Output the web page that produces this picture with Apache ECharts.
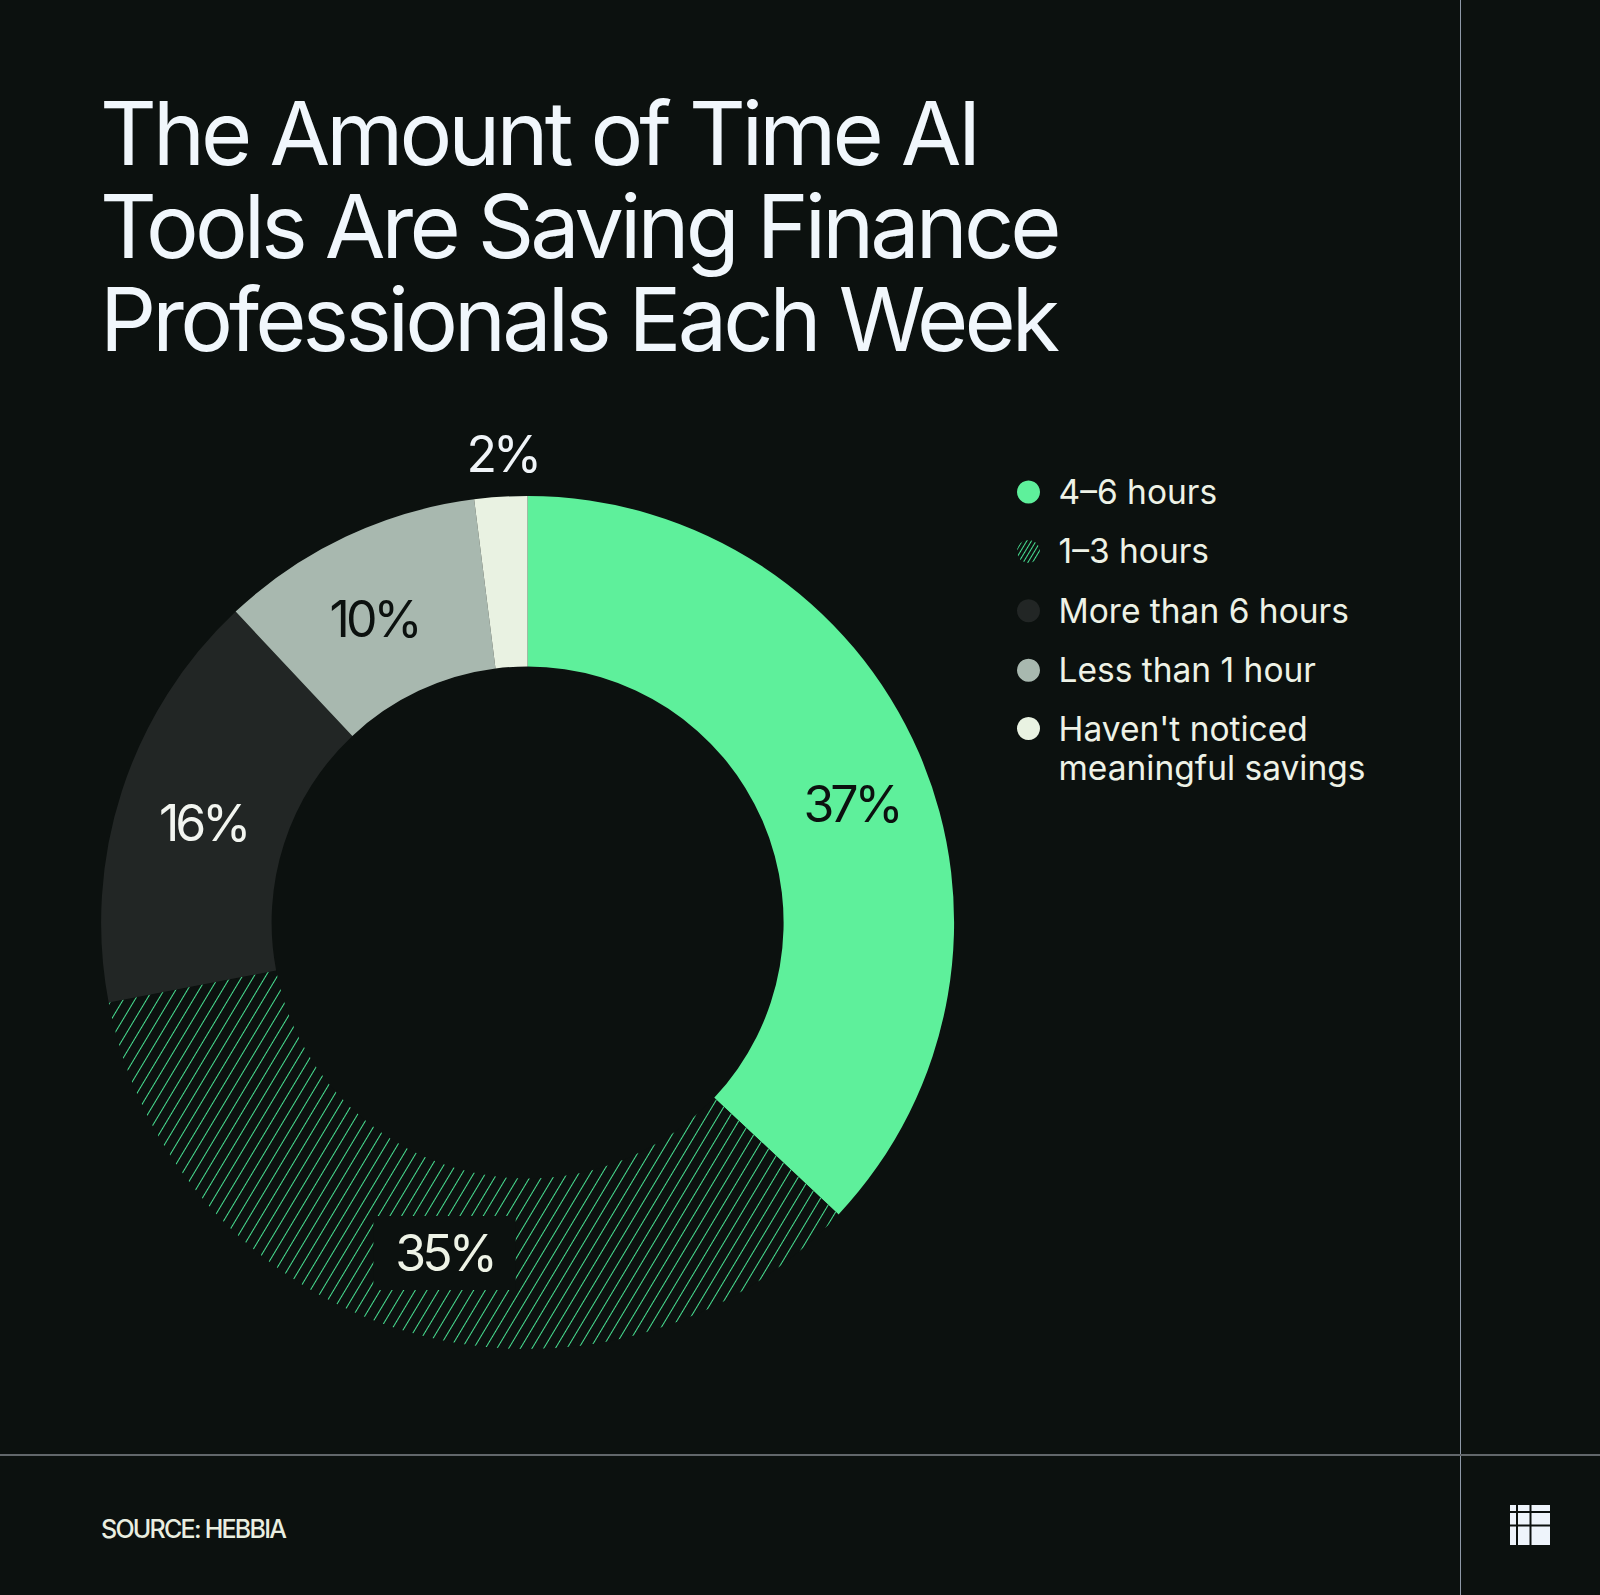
<!DOCTYPE html>
<html>
<head>
<meta charset="utf-8">
<script src="https://cdn.jsdelivr.net/npm/echarts/dist/echarts.min.js"></script>
<style>
  html, body { margin: 0; padding: 0; background: #0c110f; }
  #timeChart { width: 1600px; height: 1595px; }
  /* tighter tracking, like the original artwork */
  #timeChart text[style*="88px"] { letter-spacing: -0.044em; }
  #timeChart text[style*="50px"] { letter-spacing: -0.08em; }
  #timeChart text[style*="25px"] { letter-spacing: -0.07em; }
</style>
</head>
<body>
<div id="timeChart"></div>
<script>
const categories = ['4–6 hours', '1–3 hours', 'More than 6 hours', 'Less than 1 hour', "Haven't noticed meaningful savings"];
const shares = [37, 35, 16, 10, 2];

const sliceColors = ['#5ef09b', '#0c110f', '#222625', '#a8b8af', '#e9f2e2'];
const labelColors = ['#0c110f', '#eef3e6', '#f2f5f0', '#0c110f', '#f0f4f8'];
// small nudges so the labels sit where the original placed them
const labelNudges = [[8, 18], [13, 0], [3, 7], [-7, 8], [4, -1]];
const bg = '#0c110f';
const font = 'Inter';

const hatch = {
  symbol: 'rect',
  symbolSize: 1,
  dashArrayX: [1, 0],
  dashArrayY: [1, 9],
  rotation: (-59 * Math.PI) / 180,
  color: '#48e092',
};
// the legend dot uses a finer version of the same stripes
const hatchSmall = Object.assign({}, hatch, { dashArrayY: [1, 2.5] });

const chart = echarts.init(document.getElementById('timeChart'), null, {
  renderer: 'svg',
  width: 1600,
  height: 1595,
});

const pieData = categories.map((name, i) => {
  const item = {
    name: name,
    value: shares[i],
    itemStyle: { color: sliceColors[i] },
    label: { color: labelColors[i] },
  };
  if (i === 1) {
    item.itemStyle.decal = hatch;
    item.label.backgroundColor = bg;
    item.label.padding = [12, 16];
  }
  if (i === 4) {
    item.label.position = 'outside';
    item.label.distanceToLabelLine = 0;
    item.labelLine = { show: false, length: 42, length2: 0 };
  }
  return item;
});

const legendText = {
  color: '#eef2e6',
  fontFamily: font,
  fontSize: 33.5,
  lineHeight: 38,
};
const lastName = categories[categories.length - 1];

const option = {
  backgroundColor: bg,
  animation: false,
  title: [
    {
      text: 'The Amount of Time AI\nTools Are Saving Finance\nProfessionals Each Week',
      left: 95,
      top: 81,
      textStyle: {
        color: '#f1f7fc',
        fontFamily: font,
        fontSize: 88,
        fontWeight: 400,
        lineHeight: 93,
      },
    },
    {
      text: 'SOURCE: HEBBIA',
      left: 96,
      top: 1511,
      textStyle: {
        color: '#e9eee0',
        fontFamily: font,
        fontSize: 25,
        fontWeight: 500,
        lineHeight: 25,
      },
    },
  ],
  legend: [
    {
      orient: 'vertical',
      left: 1017,
      top: 473,
      padding: 0,
      icon: 'circle',
      itemWidth: 50,
      itemHeight: 23,
      itemGap: 21.4,
      selectedMode: false,
      textStyle: legendText,
      data: categories.slice(0, categories.length - 1).map((name, i) =>
        i === 1 ? { name: name, itemStyle: { decal: hatchSmall } } : { name: name }
      ),
    },
    {
      // the two-line entry: a leading blank line keeps the dot on its first line
      orient: 'vertical',
      left: 1017,
      top: 670,
      padding: 0,
      icon: 'circle',
      itemWidth: 50,
      itemHeight: 23,
      selectedMode: false,
      formatter: (name) => '\n' + name.replace('noticed ', 'noticed\n'),
      textStyle: Object.assign({}, legendText, { lineHeight: 39 }),
      data: [lastName],
    },
  ],
  series: [
    {
      type: 'pie',
      center: [527.6, 922.5],
      radius: [256, 426.5],
      startAngle: 90,
      clockwise: true,
      avoidLabelOverlap: false,
      silent: true,
      itemStyle: { borderWidth: 0 },
      label: {
        show: true,
        position: 'inside',
        formatter: '{c}%',
        fontFamily: font,
        fontSize: 50,
        lineHeight: 50,
      },
      labelLine: { show: false },
      labelLayout: (params) => {
        const n = labelNudges[params.dataIndex];
        const out = { dx: n[0], dy: n[1] };
        if (params.dataIndex === 4) out.align = 'center';
        return out;
      },
      data: pieData,
    },
  ],
  graphic: [
    { type: 'line', shape: { x1: 1460.5, y1: 0, x2: 1460.5, y2: 1595 }, style: { stroke: '#8f99a8', lineWidth: 1 } },
    { type: 'line', shape: { x1: 0, y1: 1455, x2: 1600, y2: 1455 }, style: { stroke: '#62676b', lineWidth: 2 } },
    { type: 'rect', shape: { x: 1510, y: 1505, width: 40, height: 40 }, style: { fill: '#eef4fb' } },
    { type: 'rect', shape: { x: 1516, y: 1505, width: 2, height: 40 }, style: { fill: bg } },
    { type: 'rect', shape: { x: 1529.5, y: 1505, width: 2, height: 40 }, style: { fill: bg } },
    { type: 'rect', shape: { x: 1510, y: 1511, width: 40, height: 2 }, style: { fill: bg } },
    { type: 'rect', shape: { x: 1510, y: 1524.5, width: 40, height: 2 }, style: { fill: bg } },
  ],
};

chart.setOption(option);
</script>
</body>
</html>
